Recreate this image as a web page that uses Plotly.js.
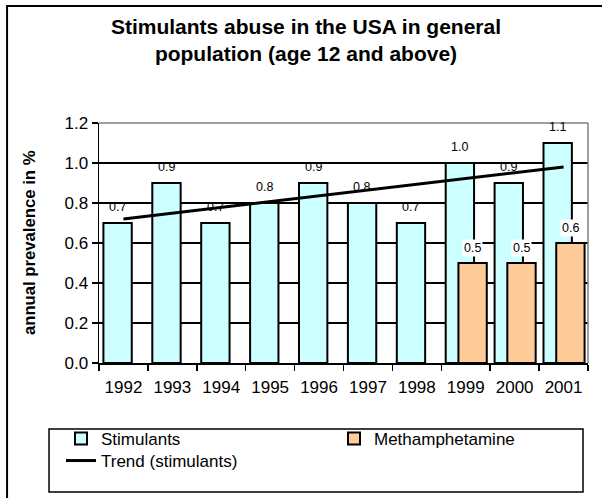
<!DOCTYPE html>
<html>
<head>
<meta charset="utf-8">
<script src="https://cdn.plot.ly/plotly-3.0.1.min.js"></script>
<style>
html,body{margin:0;padding:0;background:#fff;}
#chart{width:602px;height:498px;}
</style>
</head>
<body>
<div id="chart"></div>
<script>
var years = ['1992','1993','1994','1995','1996','1997','1998','1999','2000','2001'];
var stimulants = [0.7,0.9,0.7,0.8,0.9,0.8,0.7,1.0,0.9,1.1];
var methYears = ['1999','2000','2001'];
var methamphetamine = [0.5,0.5,0.6];
var trendYears = ['1992','2001'];
var trend = [0.72,0.98];

var FONT = 'Liberation Sans, Arial, sans-serif';

var traces = [
  {type:'bar', name:'Stimulants', x:years, y:stimulants,
   width:0.58, offset:-0.41, legend:'legend',
   marker:{color:'#CCFFFF', line:{color:'#000', width:2}},
   hoverinfo:'x+y'},
  {type:'bar', name:'Methamphetamine', x:methYears, y:methamphetamine,
   width:0.58, offset:-0.15, legend:'legend2',
   marker:{color:'#FFCC99', line:{color:'#000', width:2}},
   hoverinfo:'x+y'},
  {type:'scatter', mode:'lines', name:'Trend (stimulants)', x:trendYears, y:trend, legend:'legend3',
   line:{color:'#000', width:3}}
];

var annotations = [];
stimulants.forEach(function(v,i){
  annotations.push({x:years.indexOf(years[i]), y:v, xref:'x', yref:'y', text:v.toFixed(1),
    showarrow:false, yshift:16, xshift:-6, font:{family:FONT, size:12.5, color:'#000'}});
});
methamphetamine.forEach(function(v,i){
  annotations.push({x:years.indexOf(methYears[i]), y:v, xref:'x', yref:'y', text:v.toFixed(1),
    showarrow:false, yshift:15, xshift:7, bgcolor:'#fff', borderpad:1,
    font:{family:FONT, size:12.5, color:'#000'}});
});
annotations.push({xref:'paper', yref:'paper', x:-0.143, y:0.5, xanchor:'center', yanchor:'middle',
  text:'<b>annual prevalence in %</b>', textangle:-90, showarrow:false,
  font:{family:FONT, size:16.7, color:'#000'}});

var legendBase = {orientation:'v', xref:'container', yref:'container', xanchor:'left', yanchor:'middle',
  font:{family:FONT, size:17, color:'#000'}, bgcolor:'rgba(0,0,0,0)', borderwidth:0};
function lg(x, y){ var o = JSON.parse(JSON.stringify(legendBase)); o.x = x; o.y = y; return o; }

var layout = {
  width:602, height:498,
  margin:{l:99, r:14, t:123, b:135, autoexpand:false},
  paper_bgcolor:'#fff', plot_bgcolor:'#fff',
  font:{family:FONT, color:'#000'},
  barmode:'overlay',
  showlegend:true,
  title:{text:'<b>Stimulants abuse in the USA in general<br>population (age 12 and above)</b>',
         font:{family:FONT, size:21, color:'#000'},
         x:306/602, xanchor:'center', xref:'container',
         y:1-34/498, yanchor:'top', yref:'container'},
  xaxis:{type:'category', range:[-0.5,9.5], autorange:false, showgrid:false, ticks:'outside', tickson:'boundaries',
         ticklen:6, tickcolor:'#000', tickwidth:1.5, showline:true, linecolor:'#000', linewidth:1.5,
         tickangle:0, automargin:false, ticklabelstandoff:8,
         tickfont:{family:FONT, size:17, color:'#000'}, fixedrange:true},
  yaxis:{range:[0,1.2], autorange:false, dtick:0.2, tickformat:'.1f', showgrid:true, gridcolor:'#000', gridwidth:1.5,
         ticks:'outside', ticklen:6, tickcolor:'#000', tickwidth:1.5, automargin:false,
         showline:true, linecolor:'#000', linewidth:1.5, zeroline:false,
         tickfont:{family:FONT, size:17, color:'#000'},
         fixedrange:true},
  legend:lg(61/602, 1-439/498),
  legend2:lg(334/602, 1-439/498),
  legend3:lg(61/602, 1-461/498),
  annotations:annotations,
  shapes:[
    {type:'line', xref:'paper', yref:'paper', x0:0, x1:1, y0:1, y1:1, line:{color:'#808080', width:1.5}, layer:'above'},
    {type:'line', xref:'paper', yref:'paper', x0:1, x1:1, y0:0, y1:1, line:{color:'#808080', width:1.5}, layer:'above'},
    {type:'rect', xref:'paper', yref:'paper', x0:-0.1022, x1:0.9898, y0:-0.275, y1:-0.5375, line:{color:'#000', width:1.5}, fillcolor:'rgba(0,0,0,0)'},
    {type:'rect', xref:'paper', yref:'paper', x0:-0.188, x1:1.2, y0:1.4875, y1:-0.8, line:{color:'#000', width:2}, fillcolor:'rgba(0,0,0,0)'}
  ]
};

Plotly.newPlot('chart', traces, layout, {displayModeBar:false, staticPlot:true});
</script>
</body>
</html>
